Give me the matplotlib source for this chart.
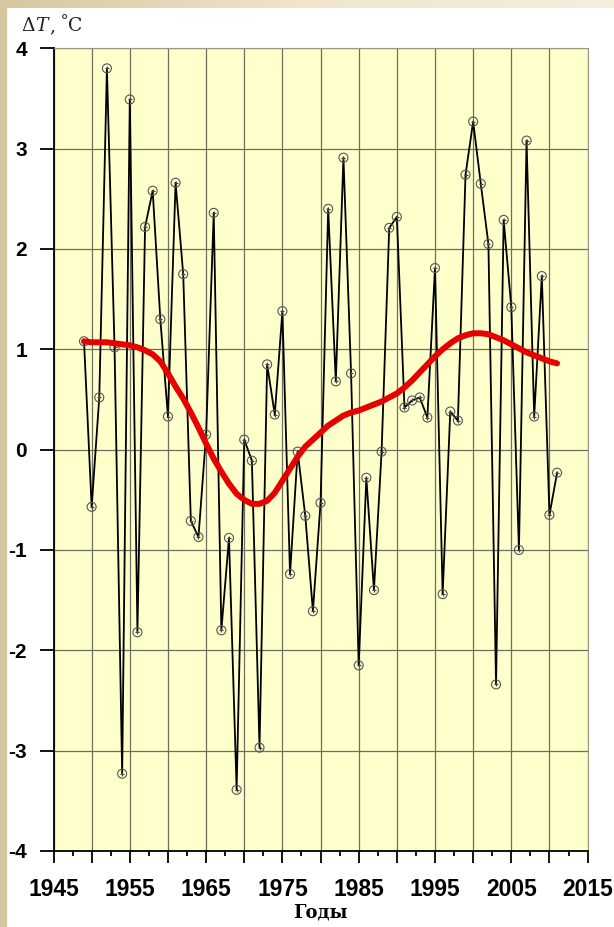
import numpy as np
import matplotlib
matplotlib.use("Agg")
import matplotlib.pyplot as plt
from matplotlib.patches import Rectangle
from matplotlib.ticker import MultipleLocator

# yearly temperature anomaly, degC
years = list(range(1949, 2012))
dT = [1.08, -0.57, 0.52, 3.80, 1.02, -3.23, 3.49, -1.82, 2.22, 2.58,
      1.30, 0.33, 2.66, 1.75, -0.71, -0.87, 0.15, 2.36, -1.80, -0.88,
      -3.39, 0.10, -0.11, -2.97, 0.85, 0.35, 1.38, -1.24, -0.02, -0.66,
      -1.61, -0.53, 2.40, 0.68, 2.91, 0.76, -2.15, -0.28, -1.40, -0.02,
      2.21, 2.32, 0.42, 0.49, 0.52, 0.32, 1.81, -1.44, 0.38, 0.29,
      2.74, 3.27, 2.65, 2.05, -2.34, 2.29, 1.42, -1.00, 3.08, 0.33,
      1.73, -0.65, -0.23]

# smoothed trend (red curve)
trend = [1.08, 1.07, 1.07, 1.07, 1.06, 1.05, 1.04, 1.02, 0.99, 0.95,
         0.88, 0.76, 0.63, 0.51, 0.37, 0.22, 0.06, -0.09, -0.22, -0.34,
         -0.44, -0.50, -0.54, -0.54, -0.51, -0.43, -0.31, -0.19, -0.07, 0.03,
         0.10, 0.17, 0.24, 0.29, 0.34, 0.37, 0.39, 0.42, 0.45, 0.48,
         0.52, 0.56, 0.62, 0.69, 0.77, 0.85, 0.93, 1.00, 1.06, 1.11,
         1.14, 1.16, 1.16, 1.15, 1.12, 1.09, 1.05, 1.01, 0.97, 0.94,
         0.91, 0.88, 0.86]

xlabels = ["1945", "", "1955", "", "1965", "", "1975", "", "1985", "",
           "1995", "", "2005", "", "2015"]
yticks = [-4, -3, -2, -1, 0, 1, 2, 3, 4]

W, H = 614, 927
fig = plt.figure(figsize=(W / 100, H / 100), dpi=100)
fig.patch.set_facecolor("white")

# slide-like border: tan strip on the left, gradient strip on top
fig.patches.append(Rectangle((0, 0), 6 / W, 1, transform=fig.transFigure,
                             color="#d6c7a0", zorder=0))
bar = fig.add_axes([0, 1 - 8 / H, 1, 8 / H])
grad = np.linspace(0, 1, 256).reshape(1, -1)
bar.imshow(grad, aspect="auto",
           cmap=matplotlib.colors.LinearSegmentedColormap.from_list(
               "g", ["#d6c7a0", "#efe6cc", "#f4eedd"]))
bar.axis("off")

ax = fig.add_axes([53.5 / W, 1 - 851 / H, (587.6 - 53.5) / W, (851 - 48.3) / H])
ax.set_facecolor("#ffffcc")

ax.plot(years, dT, color="black", lw=1.3, zorder=3)
ax.scatter(years, dT, s=42, facecolors="none", edgecolors="#555555",
           linewidths=0.8, zorder=4)
ax.scatter(years, dT, s=12, marker="+", color="#444444", linewidths=0.8, zorder=4)
ax.plot(years, trend, color="#e60000", lw=4.3, solid_capstyle="round",
        solid_joinstyle="round", zorder=5)

ax.set_xlim(1945, 2015)
ax.set_ylim(-4, 4)
ax.set_xticks(range(1945, 2016, 5))
ax.set_xticklabels(xlabels)
ax.xaxis.set_minor_locator(MultipleLocator(2.5))
ax.set_yticks(yticks)
ax.set_yticklabels([str(v) for v in yticks])
ax.grid(True, which="major", color="#6e6e5e", lw=0.9, zorder=1)
ax.set_axisbelow(True)

ax.tick_params(axis="x", which="major", direction="out", length=8.5, width=1.3,
               pad=11, labelsize=16.5)
ax.tick_params(axis="x", which="minor", direction="out", length=3.6, width=1.3)
ax.tick_params(axis="y", direction="out", length=10, width=1.3, pad=9,
               labelsize=15)
for lab in ax.get_xticklabels() + ax.get_yticklabels():
    lab.set_fontfamily("Liberation Sans")
    lab.set_fontweight("bold")

for side in ("left", "bottom"):
    ax.spines[side].set_color("black")
    ax.spines[side].set_linewidth(1.3)
for side in ("top", "right"):
    ax.spines[side].set_color("#9a9a80")
    ax.spines[side].set_linewidth(0.8)

# axis title, spaced out like a monospaced font
for ch, xc, st in [("Δ", 28, "normal"), ("T", 41, "italic"), (",", 52, "normal"),
                   ("˚", 64, "normal"), ("C", 75, "normal")]:
    fig.text(xc / W, 1 - 26 / H, ch, fontsize=13.5, family="DejaVu Serif",
             style=st, color="#222222", ha="center", va="center")
fig.text((53.5 + 587.6) / 2 / W, 1 - 913 / H, "Годы", fontsize=13,
         family="DejaVu Serif", fontweight="bold",
         ha="center", va="center")

fig.savefig("out.png", dpi=100, facecolor=fig.get_facecolor())
